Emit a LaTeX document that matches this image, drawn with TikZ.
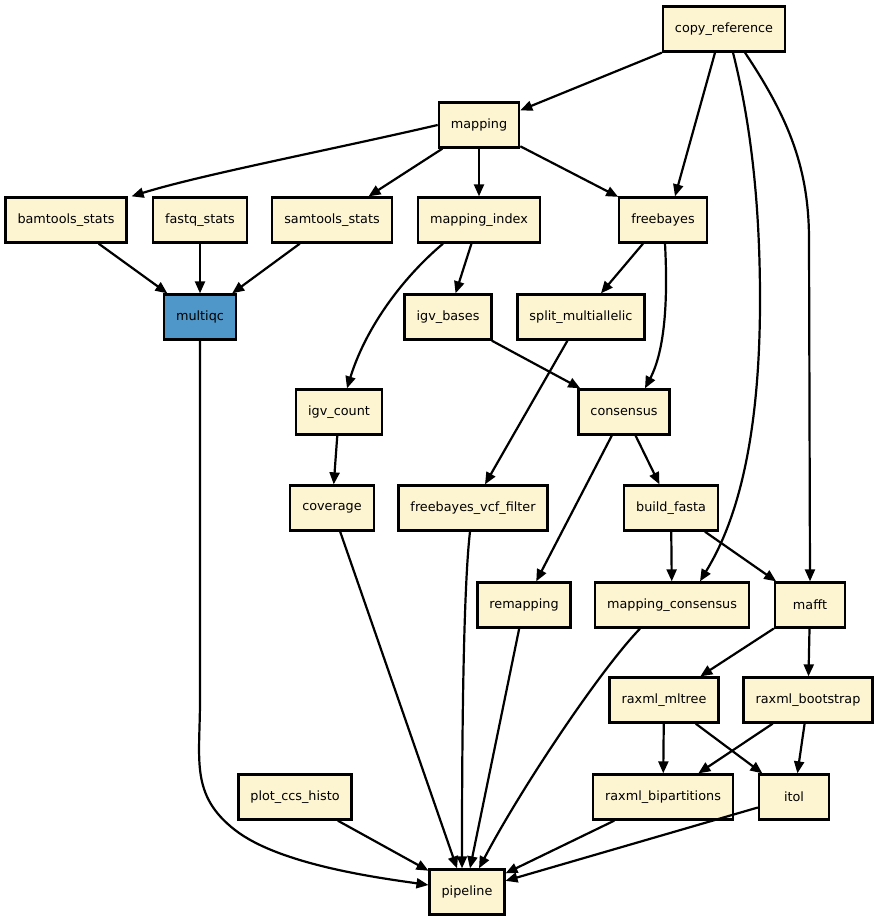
\documentclass[tikz,border=0pt]{standalone}
\usepackage{fontspec}
\setmainfont{DejaVu Sans}
\usetikzlibrary{arrows.meta, positioning}
\definecolor{rulefill}{HTML}{FDF4D1}
\definecolor{qcfill}{HTML}{5097C9}

\begin{document}
\begin{tikzpicture}[
    x=1pt, y=-1pt,
    rule/.style={rectangle, draw=black, fill=rulefill, line width=2.3pt,
                 minimum height=45pt, minimum width=70pt, inner xsep=12pt,
                 font=\fontsize{12.8}{15}\selectfont},
    rule hl/.style={rule, fill=qcfill},
    dep/.style={-{Triangle[length=12pt, width=10pt]}, line width=2.2pt}
]
\useasboundingbox (0,0) rectangle (879,923);

% Define rules
\node[rule] (copy_reference) at (724,29) {copy\_reference};
\node[rule] (mapping) at (479,125) {mapping};
\node[rule] (bamtools_stats) at (66,220) {bamtools\_stats};
\node[rule] (fastq_stats) at (200,220) {fastq\_stats};
\node[rule] (samtools_stats) at (332,220) {samtools\_stats};
\node[rule] (mapping_index) at (479,220) {mapping\_index};
\node[rule] (freebayes) at (663,220) {freebayes};
\node[rule hl] (multiqc) at (200,317) {multiqc};
\node[rule] (igv_bases) at (448,317) {igv\_bases};
\node[rule] (split_multiallelic) at (581,317) {split\_multiallelic};
\node[rule] (igv_count) at (339,412) {igv\_count};
\node[rule] (consensus) at (624,412) {consensus};
\node[rule] (coverage) at (332,508) {coverage};
\node[rule] (freebayes_vcf_filter) at (473,508) {freebayes\_vcf\_filter};
\node[rule] (build_fasta) at (671,508) {build\_fasta};
\node[rule] (remapping) at (524,605) {remapping};
\node[rule] (mapping_consensus) at (672,605) {mapping\_consensus};
\node[rule] (mafft) at (810,605) {mafft};
\node[rule] (raxml_mltree) at (664,700) {raxml\_mltree};
\node[rule] (raxml_bootstrap) at (808,700) {raxml\_bootstrap};
\node[rule] (plot_ccs_histo) at (295,797) {plot\_ccs\_histo};
\node[rule] (raxml_bipartitions) at (663,797) {raxml\_bipartitions};
\node[rule] (itol) at (794,797) {itol};
\node[rule] (pipeline) at (467,892) {pipeline};

% Dependencies
\draw[dep] (copy_reference.south west) -- ([yshift=-9pt]mapping.north east);
\draw[dep] ([xshift=-9pt]copy_reference.south) -- ([xshift=12pt]freebayes.north);
\draw[dep] ([xshift=9pt]copy_reference.south) .. controls (750,120) and (760,200) .. (760,300)
    .. controls (760,470) and (725,540) .. ([xshift=28pt]mapping_consensus.north);
\draw[dep] ([xshift=21pt]copy_reference.south) .. controls (790,120) and (809,170) .. (809,240)
    -- (mafft.north);
\draw[dep] (mapping.west) .. controls (330,150) and (200,175) .. ([xshift=4pt]bamtools_stats.north east);
\draw[dep] (mapping) -- (samtools_stats);
\draw[dep] (mapping) -- (mapping_index);
\draw[dep] (mapping) -- (freebayes);
\draw[dep] (bamtools_stats) -- (multiqc);
\draw[dep] (fastq_stats) -- (multiqc);
\draw[dep] (samtools_stats) -- (multiqc);
\draw[dep] (multiqc.south) -- (200,700) .. controls (200,760) and (190,795) .. (235,830)
    .. controls (280,865) and (380,878) .. ([yshift=7pt]pipeline.west);
\draw[dep] (mapping_index) -- (igv_bases);
\draw[dep] ([xshift=-36pt]mapping_index.south) .. controls (400,280) and (365,330) .. ([xshift=8pt]igv_count.north);
\draw[dep] (freebayes) -- (split_multiallelic);
\draw[dep] ([xshift=2pt]freebayes.south) .. controls (668,300) and (665,350) .. ([xshift=21pt]consensus.north);
\draw[dep] (igv_bases) -- (consensus);
\draw[dep] (split_multiallelic) -- ([xshift=12pt]freebayes_vcf_filter.north);
\draw[dep] (igv_count) -- (coverage);
\draw[dep] (consensus) -- (build_fasta);
\draw[dep] (consensus) -- (remapping);
\draw[dep] (build_fasta) -- (mapping_consensus);
\draw[dep] (build_fasta) -- (mafft);
\draw[dep] (coverage) -- ([xshift=-10pt]pipeline.north);
\draw[dep] ([xshift=-3pt]freebayes_vcf_filter.south) .. controls (462,600) and (462,800) .. ([xshift=-5pt]pipeline.north);
\draw[dep] (remapping) -- ([xshift=3pt]pipeline.north);
\draw[dep] ([xshift=-32pt]mapping_consensus.south) .. controls (600,670) and (520,790) .. ([xshift=12pt]pipeline.north);
\draw[dep] (mafft) -- (raxml_mltree);
\draw[dep] (mafft) -- (raxml_bootstrap);
\draw[dep] (raxml_mltree) -- (raxml_bipartitions);
\draw[dep] (raxml_mltree) -- (itol);
\draw[dep] (raxml_bootstrap) -- (raxml_bipartitions);
\draw[dep] (raxml_bootstrap) -- (itol);
\draw[dep] (plot_ccs_histo) -- (pipeline);
\draw[dep] (raxml_bipartitions) -- (pipeline);
\draw[dep] (itol) -- (pipeline);

\end{tikzpicture}
\end{document}
